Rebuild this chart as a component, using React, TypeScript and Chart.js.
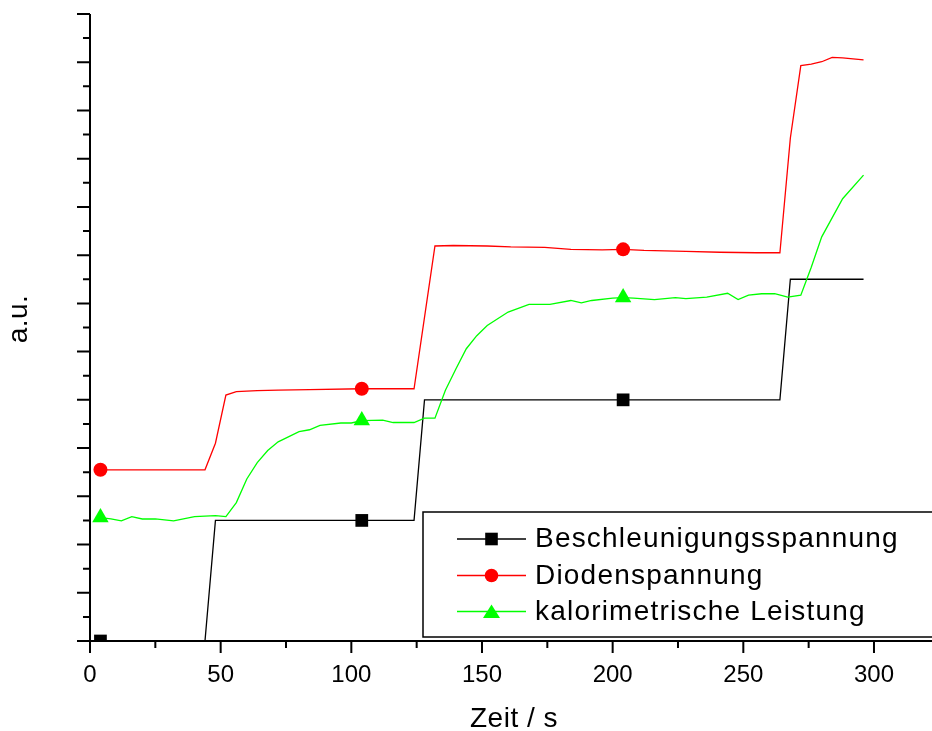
import React, { useEffect, useRef } from 'react';
import { Chart, registerables } from 'chart.js';

Chart.register(...registerables);

// ---- data ----
const markerTimes = [4, 104, 204];

const beschleunigungX = [4, 44, 48, 104, 124, 128, 204, 264, 268, 296];
const beschleunigungY = [0, 0, 2.5, 2.5, 2.5, 5, 5, 5, 7.5, 7.5];

const diodeX = [4, 44, 48, 52, 56, 64, 72, 84, 104, 124, 132, 139, 152, 161, 174, 184, 196, 204, 212, 228, 241, 255, 264, 268, 272, 276, 280, 284, 288, 292, 296];
const diodeY = [3.55, 3.55, 4.1, 5.1, 5.17, 5.19, 5.2, 5.21, 5.23, 5.23, 8.19, 8.2, 8.19, 8.17, 8.16, 8.12, 8.11, 8.12, 8.1, 8.08, 8.06, 8.05, 8.05, 10.43, 11.93, 11.96, 12.01, 12.1, 12.09, 12.07, 12.05];

const kaloX = [4, 8, 12, 16, 20, 25, 32, 40, 48, 52, 56, 60, 64, 68, 72, 80, 84, 88, 96, 100, 104, 112, 116, 124, 128, 132, 136, 140, 144, 148, 152, 160, 168, 176, 184, 188, 192, 200, 204, 208, 216, 224, 228, 236, 244, 248, 252, 257, 262, 267, 272, 276, 280, 288, 296];
const kaloY = [2.56, 2.53, 2.49, 2.58, 2.53, 2.53, 2.49, 2.58, 2.6, 2.58, 2.87, 3.36, 3.7, 3.95, 4.13, 4.34, 4.38, 4.47, 4.52, 4.52, 4.57, 4.58, 4.53, 4.53, 4.62, 4.62, 5.2, 5.64, 6.06, 6.33, 6.54, 6.82, 6.98, 6.98, 7.06, 7.01, 7.06, 7.11, 7.12, 7.11, 7.08, 7.12, 7.1, 7.13, 7.21, 7.08, 7.17, 7.2, 7.2, 7.13, 7.17, 7.75, 8.38, 9.17, 9.66];

const xMajorTicks = [0, 50, 100, 150, 200, 250, 300];
const xMinorTicks = [25, 75, 125, 175, 225, 275];
const yMajorTicks = [0, 1, 2, 3, 4, 5, 6, 7, 8, 9, 10, 11, 12, 13];
const yMinorTicks = [0.5, 1.5, 2.5, 3.5, 4.5, 5.5, 6.5, 7.5, 8.5, 9.5, 10.5, 11.5, 12.5];

const seriesLabels = ['Beschleunigungsspannung', 'Diodenspannung', 'kalorimetrische Leistung'];
const seriesColors = ['#000000', '#ff0000', '#00ff00'];
const seriesStyles = ['rect', 'circle', 'triangle'];
const xTitle = 'Zeit / s';
const yTitle = 'a.u.';

const FONT = '"Liberation Sans", Arial, Helvetica, sans-serif';

const toPoints = (xs: number[], ys: number[]) => xs.map((x, i) => ({ x, y: ys[i] }));

function drawMarker(ctx: CanvasRenderingContext2D, style: string, x: number, y: number, color: string) {
  ctx.fillStyle = color;
  ctx.beginPath();
  if (style === 'rect') {
    ctx.rect(x - 6.3, y - 6.3, 12.6, 12.6);
  } else if (style === 'circle') {
    ctx.arc(x, y, 6.8, 0, Math.PI * 2);
  } else {
    ctx.moveTo(x, y - 7);
    ctx.lineTo(x + 8.5, y + 6.5);
    ctx.lineTo(x - 8.5, y + 6.5);
    ctx.closePath();
  }
  ctx.fill();
}

const decorPlugin = {
  id: 'decor',
  afterDraw(chart: any) {
    const ctx: CanvasRenderingContext2D = chart.ctx;
    const { left, right, top, bottom } = chart.chartArea;
    const xs = chart.scales.x;
    const ys = chart.scales.y;
    ctx.save();
    ctx.strokeStyle = '#000';
    ctx.lineWidth = 2;
    ctx.lineCap = 'butt';
    ctx.beginPath();
    ctx.moveTo(left, top);
    ctx.lineTo(left, bottom);
    ctx.moveTo(left - 1, bottom);
    ctx.lineTo(right, bottom);
    // y ticks
    yMajorTicks.forEach((v) => {
      const p = ys.getPixelForValue(v);
      ctx.moveTo(left - 13, p);
      ctx.lineTo(left, p);
    });
    yMinorTicks.forEach((v) => {
      const p = ys.getPixelForValue(v);
      ctx.moveTo(left - 7, p);
      ctx.lineTo(left, p);
    });
    xMajorTicks.forEach((v) => {
      const p = xs.getPixelForValue(v);
      ctx.moveTo(p, bottom);
      ctx.lineTo(p, bottom + 12);
    });
    xMinorTicks.forEach((v) => {
      const p = xs.getPixelForValue(v);
      ctx.moveTo(p, bottom);
      ctx.lineTo(p, bottom + 7);
    });
    ctx.stroke();

    // tick labels
    ctx.fillStyle = '#000';
    ctx.font = `24px ${FONT}`;
    ctx.textAlign = 'center';
    ctx.textBaseline = 'alphabetic';
    xMajorTicks.forEach((v) => {
      ctx.fillText(String(v), xs.getPixelForValue(v), 682);
    });

    // axis titles
    ctx.font = `28px ${FONT}`;
    (ctx as any).letterSpacing = '0.5px';
    ctx.fillText(xTitle, 514, 727);
    ctx.save();
    ctx.translate(27, 319);
    ctx.rotate(-Math.PI / 2);
    ctx.fillText(yTitle, 0, 0);
    ctx.restore();

    // legend
    ctx.fillStyle = '#fff';
    ctx.fillRect(423, 512, 520, 125);
    ctx.lineWidth = 1.5;
    ctx.strokeStyle = '#000';
    ctx.strokeRect(423, 512, 520, 125);
    const rows = [539, 575.5, 611.5];
    seriesLabels.forEach((label, i) => {
      const yy = rows[i];
      ctx.strokeStyle = seriesColors[i];
      ctx.lineWidth = 1.3;
      ctx.beginPath();
      ctx.moveTo(457, yy);
      ctx.lineTo(526, yy);
      ctx.stroke();
      drawMarker(ctx, seriesStyles[i], 491.5, yy, seriesColors[i]);
      ctx.fillStyle = '#000';
      ctx.font = `28px ${FONT}`;
      (ctx as any).letterSpacing = '1.2px';
      ctx.textAlign = 'left';
      ctx.fillText(label, 535, yy + 8);
    });
    ctx.restore();
  },
};

export default function App() {
  const canvasRef = useRef<HTMLCanvasElement | null>(null);

  useEffect(() => {
    if (!canvasRef.current) return;
    const radiusFor = (r: number) => (c: any) => (c.raw && markerTimes.includes(c.raw.x) ? r : 0);
    const chart = new Chart(canvasRef.current, {
      type: 'line',
      data: {
        datasets: [
          {
            label: seriesLabels[0],
            data: toPoints(beschleunigungX, beschleunigungY),
            borderColor: seriesColors[0],
            backgroundColor: seriesColors[0],
            borderWidth: 1.3,
            pointStyle: 'rect',
            pointRadius: radiusFor(9),
            pointBorderWidth: 0,
            pointBackgroundColor: seriesColors[0],
            order: 2,
          },
          {
            label: seriesLabels[1],
            data: toPoints(diodeX, diodeY),
            borderColor: seriesColors[1],
            backgroundColor: seriesColors[1],
            borderWidth: 1.3,
            pointStyle: 'circle',
            pointRadius: radiusFor(7),
            pointBorderWidth: 0,
            pointBackgroundColor: seriesColors[1],
            order: 1,
          },
          {
            label: seriesLabels[2],
            data: toPoints(kaloX, kaloY),
            borderColor: seriesColors[2],
            backgroundColor: seriesColors[2],
            borderWidth: 1.3,
            pointStyle: 'triangle',
            pointRadius: radiusFor(9.5),
            pointBorderWidth: 0,
            pointBackgroundColor: seriesColors[2],
            order: 0,
          },
        ],
      },
      options: {
        animation: false,
        responsive: false,
        events: [],
        layout: { autoPadding: false, padding: { left: 90, top: 14, right: 0, bottom: 90 } },
        plugins: { legend: { display: false }, tooltip: { enabled: false } },
        elements: { line: { tension: 0 } },
        scales: {
          x: { type: 'linear', display: false, min: 0, max: 322.2 },
          y: { type: 'linear', display: false, min: 0, max: 13 },
        },
      },
      plugins: [decorPlugin],
    });
    return () => chart.destroy();
  }, []);

  return (
    <div style={{ position: 'fixed', left: 0, top: 0, width: 932, height: 731, background: '#fff' }}>
      <canvas ref={canvasRef} width={932} height={731} style={{ display: 'block' }} />
    </div>
  );
}
